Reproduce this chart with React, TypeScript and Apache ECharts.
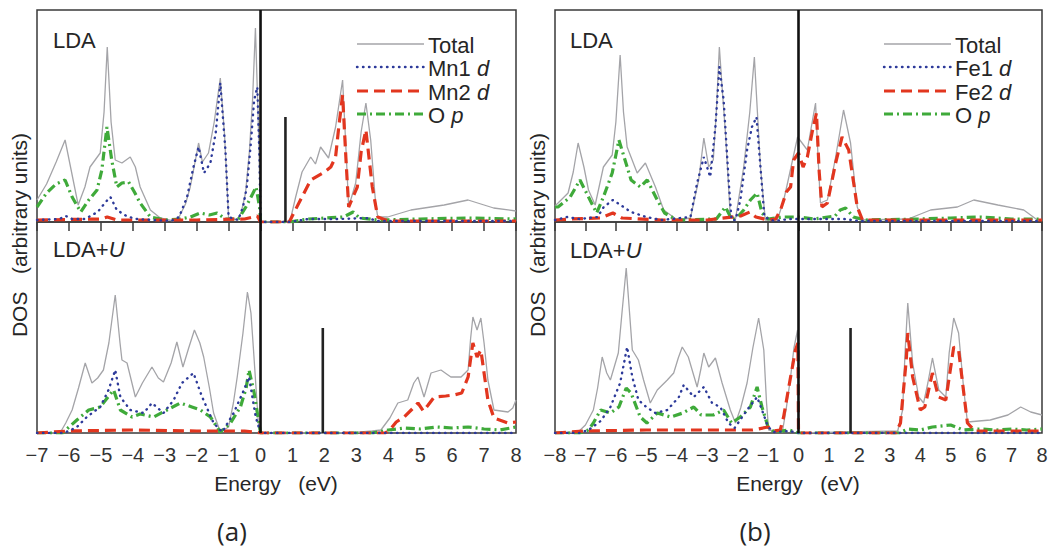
import React, { useEffect, useRef } from "react";
import * as echarts from "echarts";

type P = [number, number][];

// ---------- Panel (a): MnO-type, LDA (upper) ----------
const aLdaTotal: P = [[-7,22],[-6.7,38],[-6.4,60],[-6.12,82],[-5.95,55],[-5.71,17],[-5.5,35],[-5.34,55],[-5.02,69],[-4.9,110],[-4.8,175],[-4.68,100],[-4.55,62],[-4.34,59],[-4.08,65],[-3.92,55],[-3.77,35],[-3.45,12],[-3.14,4],[-2.73,1],[-2.55,5],[-2.35,18],[-2.2,35],[-2.05,60],[-1.94,79],[-1.82,60],[-1.63,69],[-1.45,100],[-1.26,144],[-1.13,89],[-1.0,4],[-0.73,2],[-0.6,10],[-0.47,29],[-0.35,70],[-0.25,122],[-0.16,194],[-0.06,89],[0,0],[0.85,0],[0.94,3],[1.1,25],[1.3,50],[1.57,65],[1.72,58],[1.88,75],[2.13,64],[2.35,95],[2.57,142],[2.68,70],[2.76,15],[2.98,39],[3.15,90],[3.3,119],[3.45,82],[3.6,20],[3.67,5],[3.98,5],[4.71,12],[5.75,17],[6.5,22],[7.3,14],[8,11]];
const aLdaMn1: P = [[-7,2],[-6.3,3],[-6.1,6],[-5.9,3],[-5.5,3],[-5.1,10],[-4.85,20],[-4.7,25],[-4.5,12],[-4.2,6],[-3.9,3],[-3.4,2],[-2.8,1],[-2.55,5],[-2.3,25],[-2.1,55],[-1.94,75],[-1.77,49],[-1.57,59],[-1.4,90],[-1.26,139],[-1.1,72],[-1.0,5],[-0.7,2],[-0.55,15],[-0.43,35],[-0.3,80],[-0.2,122],[-0.1,135],[-0.03,60],[0,0],[0.9,0],[1.5,3],[2.5,3],[3.3,4],[3.7,1],[8,1]];
const aLdaMn2: P = [[-7,2],[-5,3],[-4.8,5],[-4.5,2],[-2,2],[-0.5,3],[-0.1,6],[0,0],[0.9,0],[1.04,9],[1.3,25],[1.57,42],[2.0,50],[2.2,55],[2.35,65],[2.45,95],[2.57,127],[2.68,60],[2.76,15],[3.03,35],[3.15,70],[3.3,92],[3.5,35],[3.67,5],[4,1],[8,1]];
const aLdaOp: P = [[-7,15],[-6.7,29],[-6.4,38],[-6.12,42],[-5.9,25],[-5.63,10],[-5.38,22],[-5.12,32],[-4.97,52],[-4.81,95],[-4.66,62],[-4.5,35],[-4.34,39],[-4.13,40],[-3.95,30],[-3.77,19],[-3.45,5],[-3,2],[-2.5,3],[-2.2,5],[-1.89,9],[-1.6,7],[-1.36,9],[-1.1,3],[-0.69,3],[-0.46,15],[-0.25,28],[-0.14,35],[-0.03,15],[0,0],[0.9,0],[1.5,3],[2.6,5],[2.9,10],[3.1,4],[3.7,2],[5,3],[6.5,4],[8,3]];

// ---------- Panel (a): LDA+U (lower) ----------
const aLduTotal: P = [[-7,0],[-6.28,0],[-6.1,10],[-5.9,23],[-5.7,45],[-5.49,70],[-5.28,50],[-5.1,55],[-4.92,63],[-4.75,90],[-4.55,138],[-4.4,90],[-4.34,73],[-4.18,70],[-3.92,36],[-3.7,50],[-3.4,66],[-3.2,55],[-3.04,51],[-2.8,70],[-2.62,91],[-2.43,66],[-2.25,85],[-2.07,103],[-1.9,90],[-1.78,76],[-1.6,45],[-1.47,20],[-1.26,1],[-1.0,6],[-0.85,30],[-0.73,56],[-0.55,100],[-0.41,141],[-0.3,120],[-0.22,83],[-0.06,6],[0,0],[2.8,0],[3.5,2],[3.77,3],[4.05,15],[4.3,30],[4.61,33],[4.8,50],[4.93,56],[5.12,36],[5.34,60],[5.65,63],[5.96,56],[6.28,56],[6.5,63],[6.58,95],[6.65,116],[6.78,103],[6.9,115],[7.0,90],[7.12,53],[7.31,23],[7.75,21],[7.9,25],[8,33]];
const aLduMn1: P = [[-7,0],[-6.2,0],[-6,2],[-5.75,6],[-5.44,16],[-5.02,26],[-4.76,43],[-4.55,63],[-4.39,36],[-4.08,23],[-3.66,20],[-3.4,30],[-3.04,20],[-2.72,33],[-2.46,50],[-2.1,60],[-1.83,36],[-1.47,10],[-1.2,1],[-0.84,20],[-0.52,43],[-0.36,56],[-0.15,16],[0,0],[8,0]];
const aLduMn2: P = [[-7,0],[-6,2],[-4,3],[-2,2],[-0.5,2],[0,0],[3.9,0],[4.05,3],[4.25,11],[4.5,16],[4.75,24],[4.93,30],[5.1,22],[5.25,28],[5.44,36],[5.8,37],[6.06,38],[6.3,40],[6.5,56],[6.65,90],[6.78,76],[6.9,83],[7.0,60],[7.12,33],[7.31,15],[7.75,10],[8,11]];
const aLduOp: P = [[-7,0],[-6.2,0],[-6.1,3],[-5.75,13],[-5.38,23],[-5.02,26],[-4.8,35],[-4.6,43],[-4.39,23],[-4.02,16],[-3.77,19],[-3.35,16],[-2.93,23],[-2.51,30],[-2.15,26],[-1.88,23],[-1.57,16],[-1.26,1],[-0.94,10],[-0.63,26],[-0.45,45],[-0.36,63],[-0.2,40],[-0.05,10],[0,0],[3.5,0],[4,3],[4.5,5],[5,4],[5.5,6],[6,5],[6.5,6],[7,4],[7.5,3],[8,6]];

// ---------- Panel (b): LDA (upper) ----------
const bLdaTotal: P = [[-8,16],[-7.9,19],[-7.57,29],[-7.4,50],[-7.24,79],[-7.05,55],[-6.9,32],[-6.68,17],[-6.41,55],[-6.12,67],[-6.0,100],[-5.86,167],[-5.75,110],[-5.63,75],[-5.3,49],[-5.03,59],[-4.7,35],[-4.43,12],[-3.98,2],[-3.55,4],[-3.28,42],[-3.11,84],[-2.95,55],[-2.8,62],[-2.7,110],[-2.6,175],[-2.5,130],[-2.4,89],[-2.24,5],[-2.07,3],[-1.8,55],[-1.6,110],[-1.45,165],[-1.35,110],[-1.25,55],[-1.09,2],[-0.7,2],[-0.5,20],[-0.36,39],[-0.03,85],[0.29,72],[0.45,100],[0.56,119],[0.65,60],[0.72,19],[0.95,22],[1.22,65],[1.48,112],[1.71,79],[1.93,15],[2.1,2],[3.6,3],[4.34,12],[5.22,15],[5.76,22],[6.55,17],[7.4,12],[7.85,2],[8,2]];
const bLdaFe1: P = [[-8,2],[-7.6,5],[-7.2,3],[-6.6,5],[-6.4,15],[-6.1,22],[-5.9,18],[-5.5,10],[-5.0,5],[-4.5,2],[-3.55,5],[-3.33,39],[-3.11,65],[-2.9,45],[-2.73,95],[-2.6,155],[-2.46,122],[-2.29,39],[-2.2,2],[-2.07,2],[-1.91,22],[-1.69,72],[-1.53,95],[-1.38,105],[-1.25,55],[-1.12,5],[-0.8,1],[-0.3,3],[0,3],[0.5,3],[1.5,3],[2,1],[8,1]];
const bLdaFe2: P = [[-8,2],[-7.5,3],[-6.5,4],[-6.1,9],[-5.8,4],[-4.5,2],[-3,2],[-1.9,6],[-1.6,10],[-1.4,5],[-1.0,2],[-0.75,3],[-0.59,12],[-0.4,30],[-0.26,35],[-0.16,62],[0,69],[0.15,55],[0.29,65],[0.45,90],[0.59,109],[0.68,50],[0.77,15],[0.95,19],[1.22,59],[1.43,85],[1.65,72],[1.93,15],[2.1,2],[8,2]];
const bLdaOp: P = [[-8,15],[-7.9,15],[-7.5,25],[-7.18,42],[-6.85,22],[-6.63,9],[-6.41,25],[-6.12,49],[-5.9,82],[-5.7,62],[-5.5,42],[-5.2,35],[-4.97,42],[-4.64,22],[-4.4,9],[-4.0,2],[-2.7,3],[-2.4,15],[-2.2,3],[-2.0,5],[-1.8,12],[-1.58,22],[-1.36,29],[-1.2,9],[-1.0,3],[-0.5,5],[0,5],[0.5,3],[1.2,6],[1.37,12],[1.55,14],[1.8,5],[2.2,2],[4,3],[5,4],[6,5],[7,3],[8,3]];

// ---------- Panel (b): LDA+U (lower) ----------
const bLduTotal: P = [[-8,0],[-7.24,1],[-7.0,8],[-6.74,23],[-6.6,45],[-6.45,76],[-6.3,60],[-6.18,53],[-5.92,80],[-5.8,120],[-5.66,165],[-5.55,120],[-5.46,83],[-5.26,73],[-5.09,53],[-4.87,30],[-4.64,43],[-4.31,53],[-4.1,60],[-3.95,75],[-3.82,86],[-3.62,76],[-3.33,46],[-3.2,65],[-3.11,80],[-2.95,66],[-2.73,75],[-2.51,50],[-2.24,23],[-2.07,10],[-1.9,25],[-1.69,50],[-1.5,85],[-1.31,115],[-1.14,83],[-1.05,30],[-0.98,3],[-0.53,1],[-0.4,25],[-0.26,56],[-0.15,85],[-0.03,103],[0,0],[3.26,2],[3.42,23],[3.5,80],[3.59,130],[3.75,70],[3.95,36],[4.11,30],[4.25,50],[4.4,75],[4.61,43],[4.84,36],[4.95,80],[5.1,115],[5.26,100],[5.43,43],[5.55,11],[6.3,13],[6.88,18],[7.3,26],[7.63,21],[8,18]];
const bLduFe1: P = [[-8,0],[-7.2,0],[-6.9,3],[-6.5,12],[-6.18,26],[-5.86,50],[-5.63,86],[-5.46,56],[-5.26,33],[-5.0,26],[-4.7,20],[-4.31,23],[-3.93,36],[-3.77,48],[-3.44,36],[-3.11,46],[-2.84,30],[-2.57,26],[-2.3,10],[-2.1,5],[-1.69,23],[-1.36,36],[-1.2,23],[-1.0,6],[-0.8,1],[-0.3,2],[0,0],[8,0]];
const bLduFe2: P = [[-8,0],[-7,2],[-5,3],[-3,3],[-1.5,3],[-1.0,6],[-0.8,2],[-0.6,3],[-0.49,16],[-0.26,56],[-0.1,83],[-0.02,90],[0,0],[3.2,0],[3.35,10],[3.54,73],[3.59,100],[3.75,56],[4.0,23],[4.15,26],[4.4,60],[4.6,36],[4.84,33],[5.1,86],[5.26,83],[5.43,40],[5.55,10],[5.8,2],[8,2]];
const bLduOp: P = [[-8,0],[-7.2,0],[-6.9,3],[-6.74,10],[-6.5,23],[-6.18,20],[-5.9,26],[-5.66,45],[-5.5,40],[-5.2,16],[-4.98,10],[-4.64,20],[-4.2,16],[-3.8,20],[-3.44,26],[-3.2,18],[-2.8,18],[-2.46,23],[-2.2,10],[-1.91,16],[-1.58,26],[-1.36,46],[-1.2,26],[-1.0,6],[-0.8,1],[-0.3,3],[0,0],[3.3,0],[3.6,4],[4.0,3],[4.4,6],[5.0,8],[5.4,3],[6,4],[6.5,3],[7,4],[7.5,3],[8,4]];

// Gap markers (energy, height) and axis ranges
const gapMarkers: { grid: number; e: number; h: number }[] = [
  { grid: 0, e: 0.78, h: 105 },
  { grid: 1, e: 1.95, h: 105 },
  { grid: 3, e: 1.71, h: 105 },
];
const xRanges = [[-7, 8], [-7, 8], [-8, 8], [-8, 8]];
const yMax = [212, 211, 212, 211];
const legendA = ["Total", "Mn1 {i|d}", "Mn2 {i|d}", "O {i|p}"];
const legendB = ["Total", "Fe1 {i|d}", "Fe2 {i|d}", "O {i|p}"];

const FONT = "'Liberation Sans', Arial, Helvetica, sans-serif";
const C_TOTAL = "#a4a4a8";
const C_BLUE = "#2d3a9a";
const C_RED = "#e2361f";
const C_GREEN = "#3faa3a";
const C_TEXT = "#262626";

const styles = {
  total: { color: C_TOTAL, width: 1.3, type: "solid" as any },
  blue: { color: C_BLUE, width: 2.4, type: [0.5, 5.5] as any, cap: "round" as any },
  red: { color: C_RED, width: 3.2, type: [11, 6] as any },
  green: { color: C_GREEN, width: 3.2, type: [9, 4, 2, 4] as any },
};

export default function App() {
  const ref = useRef<HTMLDivElement>(null);
  useEffect(() => {
    if (!ref.current) return;
    const chart = echarts.init(ref.current, undefined, { renderer: "svg" });

    const grids = [
      { left: 37, top: 10, width: 479, height: 212 },
      { left: 37, top: 222, width: 479, height: 211 },
      { left: 555, top: 10, width: 487, height: 212 },
      { left: 555, top: 222, width: 487, height: 211 },
    ].map((g) => ({ ...g, show: true, borderColor: "#3a3a3a", borderWidth: 1.5, backgroundColor: "transparent" }));

    const xAxis = xRanges.map((r, i) => {
      const upper = i % 2 === 0;
      return {
        type: "value",
        gridIndex: i,
        min: r[0],
        max: r[1],
        interval: 1,
        position: upper ? "top" : "bottom",
        axisLine: { show: false },
        splitLine: { show: false },
        axisTick: upper
          ? { show: true, inside: true, length: 9, lineStyle: { color: "#3a3a3a", width: 1.5 } }
          : { show: false },
        axisLabel: upper
          ? { show: false }
          : {
              show: true,
              color: "#333",
              fontSize: 20,
              fontFamily: FONT,
              margin: 12,
              formatter: (v: number) => String(v).replace("-", "\u2212"),
            },
      };
    });
    const yAxis = yMax.map((m, i) => ({
      type: "value",
      gridIndex: i,
      min: 0,
      max: m,
      show: false,
      splitLine: { show: false },
    }));

    const line = (grid: number, data: P, ls: any, z = 2) => ({
      type: "line",
      xAxisIndex: grid,
      yAxisIndex: grid,
      data,
      showSymbol: false,
      symbol: "none",
      silent: true,
      z,
      lineStyle: ls,
    });

    const sets: [P, P, P, P][] = [
      [aLdaTotal, aLdaOp, aLdaMn2, aLdaMn1],
      [aLduTotal, aLduOp, aLduMn2, aLduMn1],
      [bLdaTotal, bLdaOp, bLdaFe2, bLdaFe1],
      [bLduTotal, bLduOp, bLduFe2, bLduFe1],
    ];
    const series: any[] = [];
    sets.forEach(([t, o, r, b], g) => {
      series.push(line(g, t, styles.total, 2));
      series.push(line(g, o, styles.green, 3));
      series.push(line(g, r, styles.red, 4));
      series.push(line(g, b, styles.blue, 5));
      series.push(line(g, [[0, 0], [0, yMax[g]]], { color: "#111", width: 2.6 }, 6));
    });
    gapMarkers.forEach((m) => {
      series.push(line(m.grid, [[m.e, 0], [m.e, m.h]], { color: "#222", width: 2.6 }, 6));
    });

    const txt = (x: number, y: number, text: string, size = 21, extra: any = {}) => ({
      type: "text",
      x,
      y,
      z: 100,
      style: {
        text,
        fill: C_TEXT,
        font: `${size}px ${FONT}`,
        verticalAlign: "middle",
        rich: { i: { fontStyle: "italic", fontSize: size, fontFamily: FONT, fill: C_TEXT } },
        ...extra,
      },
    });
    const legend = (x0: number, labels: string[]) => {
      const ys = [44, 67, 91, 114];
      const dashes: any[] = [
        { stroke: C_TOTAL, lineWidth: 1.3 },
        { stroke: C_BLUE, lineWidth: 2.4, lineDash: [0.5, 5.5], lineCap: "round" },
        { stroke: C_RED, lineWidth: 3.2, lineDash: [11, 6] },
        { stroke: C_GREEN, lineWidth: 3.2, lineDash: [9, 4, 2, 4] },
      ];
      const out: any[] = [];
      labels.forEach((l, i) => {
        out.push({
          type: "line",
          z: 100,
          shape: { x1: x0, y1: ys[i], x2: x0 + 67, y2: ys[i] },
          style: dashes[i],
        });
        out.push(txt(x0 + 71, ys[i] + 1, l, 22));
      });
      return out;
    };

    const graphic: any[] = [
      txt(53, 40, "LDA", 22),
      txt(53, 249, "LDA+{i|U}", 22),
      txt(570, 40, "LDA", 22),
      txt(570, 250, "LDA+{i|U}", 22),
      ...legend(357, legendA),
      ...legend(884, legendB),
      {
        type: "text",
        x: 19,
        y: 235,
        rotation: Math.PI / 2,
        z: 100,
        style: { text: "DOS   (arbitrary units)", fill: C_TEXT, font: `21px ${FONT}`, align: "center", verticalAlign: "middle" },
      },
      {
        type: "text",
        x: 537,
        y: 235,
        rotation: Math.PI / 2,
        z: 100,
        style: { text: "DOS   (arbitrary units)", fill: C_TEXT, font: `21px ${FONT}`, align: "center", verticalAlign: "middle" },
      },
      txt(276, 483, "Energy   (eV)", 21, { align: "center" }),
      txt(798, 483, "Energy   (eV)", 21, { align: "center" }),
      txt(232, 531, "(a)", 26, { align: "center", font: `26px 'Open Sans', sans-serif` }),
      txt(755, 531, "(b)", 26, { align: "center", font: `26px 'Open Sans', sans-serif` }),
    ];

    chart.setOption({
      animation: false,
      backgroundColor: "#ffffff",
      grid: grids,
      xAxis,
      yAxis,
      series,
      graphic,
    });
    return () => chart.dispose();
  }, []);
  return (
    <div
      ref={ref}
      style={{ position: "fixed", left: 0, top: 0, width: 1057, height: 556, background: "#fff" }}
    />
  );
}
